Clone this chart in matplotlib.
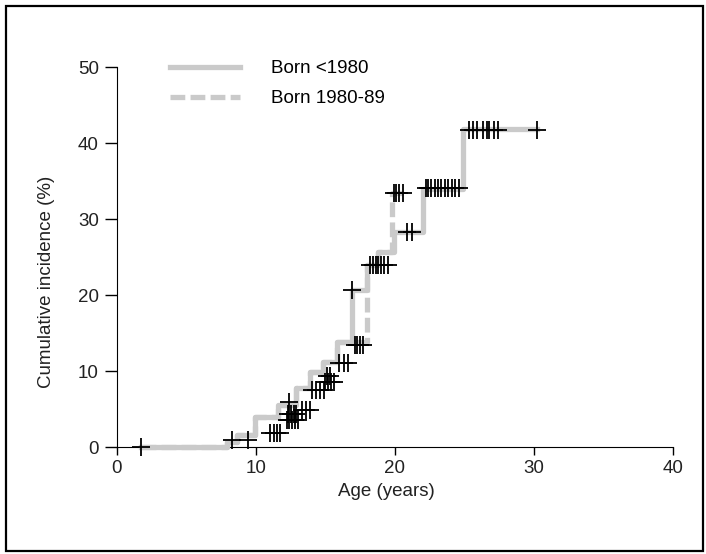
import matplotlib
matplotlib.use("Agg")
import matplotlib.pyplot as plt
from matplotlib.patches import Rectangle

plt.rcParams['font.family'] = ['Liberation Sans', 'DejaVu Sans']

# step curves (age at step, cumulative incidence after step)
age_pre80 = [1.7, 7.9, 8.6, 9.9, 11.6, 12.9, 13.9, 14.8, 15.8, 16.9, 18.0, 18.8, 19.9, 22.0, 24.9, 30.2]
inc_pre80 = [0.0, 0.7, 1.6, 4.0, 5.6, 7.8, 9.9, 11.2, 13.8, 20.7, 24.0, 25.6, 28.3, 34.0, 41.8, 41.8]

age_80s = [1.7, 7.9, 8.6, 9.9, 11.6, 12.9, 13.9, 14.8, 15.8, 18.0, 18.8, 19.8, 20.7]
inc_80s = [0.0, 0.7, 1.6, 4.0, 5.6, 7.8, 9.9, 11.2, 13.8, 24.0, 25.6, 33.4, 33.4]

# censored observations
cens_age = [1.7, 8.3, 9.4,
            11.0, 11.3, 11.5, 11.7,
            12.2, 12.4, 12.6, 12.8, 13.0, 12.3, 12.5, 12.7, 12.9,
            12.4, 13.3, 13.6, 13.9,
            14.0, 14.3, 14.6, 14.9,
            15.0, 15.2, 15.4, 15.6, 15.1, 15.3,
            16.0, 16.3, 16.6,
            16.9,
            17.1, 17.3, 17.5, 17.7,
            18.2, 18.4, 18.6, 18.8, 19.0, 19.2, 19.5,
            20.9, 21.2,
            19.9, 20.1, 20.3, 20.6,
            22.2, 22.4, 22.6, 22.9, 23.1, 23.3, 23.6, 23.8, 24.1, 24.3, 24.6,
            25.3, 25.6, 25.9, 26.3, 26.6, 26.8, 27.1, 27.4,
            30.2]
cens_inc = [0.0, 0.9, 0.9,
            1.8, 1.8, 1.8, 1.8,
            3.6, 3.6, 3.6, 3.6, 3.6, 4.4, 4.4, 4.4, 4.4,
            5.9, 4.9, 4.9, 4.9,
            7.5, 7.5, 7.5, 7.5,
            8.6, 8.6, 8.6, 8.6, 9.4, 9.4,
            11.0, 11.0, 11.0,
            20.7,
            13.4, 13.4, 13.4, 13.4,
            23.9, 23.9, 23.9, 23.9, 23.9, 23.9, 23.9,
            28.3, 28.3,
            33.4, 33.4, 33.4, 33.4,
            34.1, 34.1, 34.1, 34.1, 34.1, 34.1, 34.1, 34.1, 34.1, 34.1, 34.1,
            41.7, 41.7, 41.7, 41.7, 41.7, 41.7, 41.7, 41.7,
            41.7]

grey = '#cacaca'
fs = 13.5

fig = plt.figure(figsize=(7.06, 5.54), dpi=100)
ax = fig.add_axes([0.1657, 0.193, 0.7875, 0.686])

ax.step(age_80s, inc_80s, where='post', color=grey, lw=3.8,
        linestyle=(0, (2.8, 1.0)), label='Born 1980-89', clip_on=False, zorder=2)
ax.step(age_pre80, inc_pre80, where='post', color=grey, lw=3.8,
        label='Born <1980', clip_on=False, zorder=3)
ax.plot(cens_age, cens_inc, linestyle='none', marker='+', color='black',
        markersize=13, mew=1.3, clip_on=False, zorder=4)

ax.set_xlim(0, 40)
ax.set_ylim(0, 50)
ax.set_xticks([0, 10, 20, 30, 40])
ax.set_yticks([0, 10, 20, 30, 40, 50])
for s in ['top', 'right']:
    ax.spines[s].set_visible(False)
ax.tick_params(direction='out', width=1, labelsize=fs, colors='black',
               labelcolor='#222222')
ax.tick_params(axis='x', length=6, pad=3)
ax.tick_params(axis='y', length=9, pad=4)
ax.set_xlabel('Age (years)', fontsize=fs, color='#222222')
ax.set_ylabel('Cumulative incidence (%)', fontsize=fs, color='#222222')
ax.xaxis.set_label_coords(0.484, -0.118)
ax.xaxis.label.set_va('center')
ax.yaxis.set_label_coords(-0.126, 0.434)
ax.yaxis.label.set_va('center')

h, l = ax.get_legend_handles_labels()
fig.legend([h[1], h[0]], [l[1], l[0]], loc='upper left',
           bbox_to_anchor=(170 / 706, 1 - 60 / 554), frameon=False,
           fontsize=fs, handlelength=3.73, handletextpad=1.65, labelspacing=0.7,
           borderpad=0, borderaxespad=0)

fig.patches.append(Rectangle((0.008, 0.006), 0.988, 0.984, transform=fig.transFigure,
                             fill=False, edgecolor='black', lw=1.6))

fig.savefig('out.png', dpi=100)
